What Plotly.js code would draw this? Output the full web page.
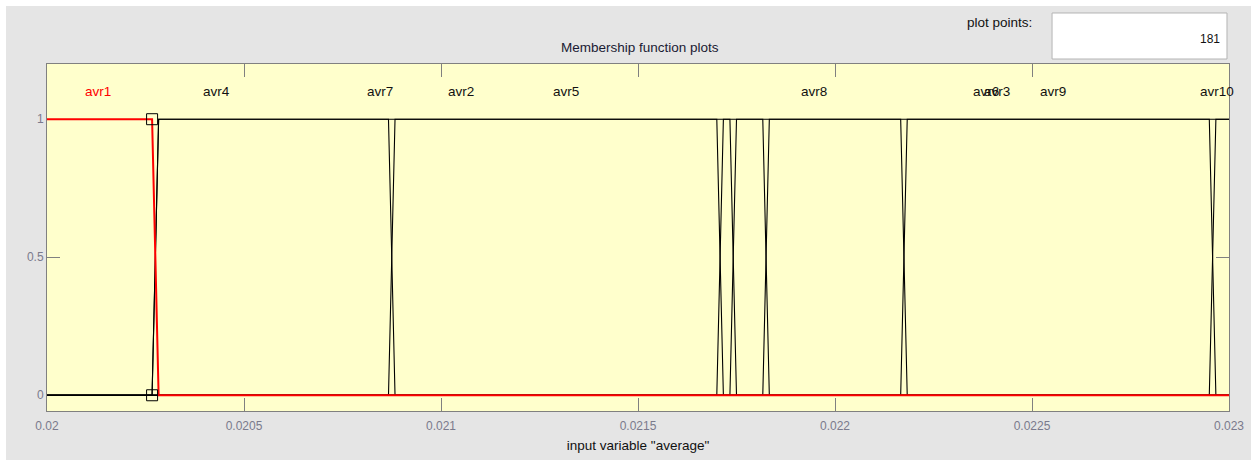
<!DOCTYPE html>
<html>
<head>
<meta charset="utf-8">
<script src="https://cdn.plot.ly/plotly-3.0.1.min.js"></script>
<style>
  html, body { margin: 0; padding: 0; background: #ffffff; width: 1251px; height: 460px; overflow: hidden; }
  #chart { position: absolute; left: 6px; top: 6px; width: 1245px; height: 454px; }
</style>
</head>
<body>
<div id="chart"></div>
<script>
// ---- data ----
const xRange = [0.02, 0.023];
const yRange = [-0.057, 1.2];
const xTickVals = [0.02, 0.0205, 0.021, 0.0215, 0.022, 0.0225, 0.023];
const xTickText = ["0.02", "0.0205", "0.021", "0.0215", "0.022", "0.0225", "0.023"];
const yTickVals = [0, 0.5, 1];
const yTickText = ["0", "0.5", "1"];

// MF names and label positions (x of label centre, y = 1.1)
const mfNames = ["avr1", "avr4", "avr7", "avr2", "avr5", "avr8", "avr6", "avr3", "avr9", "avr10"];
const labelX  = [0.020129, 0.020431, 0.020846, 0.021050, 0.021317, 0.021947, 0.022383, 0.022412, 0.022553, 0.022970];
const labelY  = 1.1;

// transitions between neighbouring MFs: falling MF goes 1 -> 0, rising MF goes 0 -> 1
const transStart = [0.0202667, 0.0208667, 0.0217000, 0.0217333, 0.0218167, 0.0221667, 0.0229500];
const transEnd   = [0.0202833, 0.0208833, 0.0217167, 0.0217500, 0.0218333, 0.0221833, 0.0229667];

// MF whose plateau (value 1) covers the whole range right of the first transition
const widePlateauX = [0.02, 0.0202667, 0.0202833, 0.023];
const widePlateauY = [0, 0, 1, 1];

// selected MF (avr1) vertex handles
const handleX = [0.0202667, 0.0202667];
const handleY = [1, 0];

const plotPoints = "181";

// ---- build traces ----
const traces = [];
const n = transStart.length;
for (let k = 1; k <= n; k++) {
  let xs, ys;
  if (k < n) {
    xs = [xRange[0], transStart[k - 1], transEnd[k - 1], transStart[k], transEnd[k], xRange[1]];
    ys = [0, 0, 1, 1, 0, 0];
  } else {
    xs = [xRange[0], transStart[k - 1], transEnd[k - 1], xRange[1]];
    ys = [0, 0, 1, 1];
  }
  traces.push({x: xs, y: ys, type: "scatter", mode: "lines",
               line: {color: "#000000", width: 1.1}, hoverinfo: "skip"});
}
traces.push({x: widePlateauX, y: widePlateauY, type: "scatter", mode: "lines",
             line: {color: "#000000", width: 1.1}, hoverinfo: "skip"});
// selected MF in red on top
traces.push({x: [xRange[0], transStart[0], transEnd[0], xRange[1]], y: [1, 1, 0, 0],
             type: "scatter", mode: "lines", line: {color: "#ff0000", width: 2}, hoverinfo: "skip"});
traces.push({x: handleX, y: handleY, type: "scatter", mode: "markers",
             marker: {symbol: "square-open", size: 11, color: "#000000", line: {width: 1, color: "#000000"}},
             hoverinfo: "skip"});

const FONT = "Liberation Sans, Arial, sans-serif";
const annotations = mfNames.map((nm, i) => ({
  x: labelX[i], y: labelY, xref: "x", yref: "y", text: nm, showarrow: false,
  xanchor: "center", yanchor: "middle",
  font: {family: FONT, size: 13.5, color: i === 0 ? "#ff0000" : "#111111"}
}));
annotations.push({x: 0.835, y: 1.121, xref: "paper", yref: "paper", text: "plot points:",
  showarrow: false, xanchor: "right", yanchor: "middle", font: {family: FONT, size: 13.5, color: "#111111"}});
annotations.push({x: 0.9941, y: 1.072, xref: "paper", yref: "paper", text: plotPoints,
  showarrow: false, xanchor: "right", yanchor: "middle", font: {family: FONT, size: 12, color: "#111111"}});

const layout = {
  width: 1245, height: 454,
  margin: {l: 41, r: 22, t: 58, b: 49, pad: 0},
  paper_bgcolor: "#e5e5e5",
  plot_bgcolor: "#ffffcc",
  showlegend: false,
  hovermode: false,
  title: {text: "Membership function plots", x: 0.509, xref: "container", xanchor: "center",
          y: 0.910, yref: "container", yanchor: "middle",
          font: {family: FONT, size: 13.5, color: "#1a1a33"}},
  xaxis: {
    range: xRange, tickvals: xTickVals, ticktext: xTickText,
    ticks: "inside", ticklen: 13, tickcolor: "#808080", tickwidth: 1,
    showline: true, linecolor: "#808080", linewidth: 1, mirror: "ticks",
    showgrid: false, zeroline: false, ticklabelstandoff: 4, layer: "below traces",
    tickfont: {family: FONT, size: 12, color: "#7a7a8c"},
    title: {text: 'input variable "average"', standoff: 8,
            font: {family: FONT, size: 13.5, color: "#111111"}}
  },
  yaxis: {
    range: yRange, tickvals: yTickVals, ticktext: yTickText,
    ticks: "inside", ticklen: 13, tickcolor: "#808080", tickwidth: 1,
    showline: true, linecolor: "#808080", linewidth: 1, mirror: "ticks",
    showgrid: false, zeroline: false, layer: "below traces",
    tickfont: {family: FONT, size: 12, color: "#7a7a8c"}
  },
  shapes: [{type: "rect", xref: "paper", yref: "paper", x0: 0.8503, x1: 0.9983, y0: 1.0144, y1: 1.147,
            fillcolor: "#ffffff", line: {color: "#b4b4b4", width: 1}, layer: "above"}],
  annotations: annotations
};

Plotly.newPlot("chart", traces, layout, {displayModeBar: false, staticPlot: true});
</script>
</body>
</html>
